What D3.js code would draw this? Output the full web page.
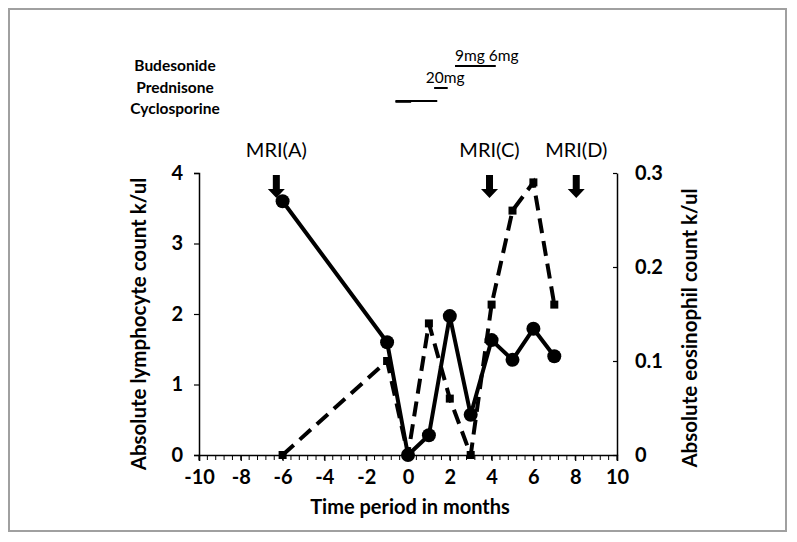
<!DOCTYPE html>
<html>
<head>
<meta charset="utf-8">
<script src="https://cdn.jsdelivr.net/npm/d3@7"></script>
<style>
  html, body { margin: 0; padding: 0; background: #fff; }
  svg { display: block; font-family: Lato, "Open Sans", "Liberation Sans", sans-serif; }
</style>
</head>
<body>
<svg id="chart" width="797" height="542"></svg>
<script>
// ---- data ----
const months = [-6, -1, 0, 1, 2, 3, 4, 5, 6, 7];
const lymphocytes = [3.6, 1.6, 0, 0.28, 1.97, 0.57, 1.63, 1.35, 1.79, 1.40];
const eosinophils = [0, 0.1, 0, 0.14, 0.06, 0, 0.16, 0.26, 0.29, 0.16];
const xTicks = [-10, -8, -6, -4, -2, 0, 2, 4, 6, 8, 10];
const yLeftTicks = [0, 1, 2, 3, 4];
const yRightTicks = [0, 0.1, 0.2, 0.3];
const mriLabels = ["MRI(A)", "MRI(C)", "MRI(D)"];
const mriMonths = [-6.3, 3.9, 8.05];
const drugNames = ["Budesonide", "Prednisone", "Cyclosporine"];
const drugStart = [2.25, 1.25, -0.6];
const drugEnd = [4.2, 1.9, 1.4];
const doseLabels = ["9mg 6mg", "20mg", ""];
const doseMonths = [2.25, 0.85, 0];

(function () {
const svg = d3.select("#chart");
const pLeft = 199, pRight = 617, pTop = 173, pBottom = 455;

// border
svg.append("rect").attr("x", 9).attr("y", 9).attr("width", 777).attr("height", 522)
  .attr("fill", "none").attr("stroke", "#a0a0a0").attr("stroke-width", 2);

const x = d3.scaleLinear().domain([-10, 10]).range([pLeft, pRight]);
const yL = d3.scaleLinear().domain([0, 4]).range([pBottom, pTop]);
const yR = d3.scaleLinear().domain([0, 0.3]).range([pBottom, pTop]);

// left axis
const gL = svg.append("g").attr("transform", `translate(${pLeft},0)`)
  .call(d3.axisLeft(yL).tickValues(yLeftTicks).tickFormat(d => String(d)).tickSize(5).tickPadding(10));
// right axis (ticks inward)
const gR = svg.append("g").attr("transform", `translate(${pRight},0)`)
  .call(d3.axisRight(yR).tickValues(yRightTicks).tickFormat(d => d === 0 ? "0" : d.toFixed(1)).tickSize(0).tickPadding(18));
gR.selectAll(".tick").append("line").attr("x1", -4).attr("x2", 0).attr("stroke", "#000");
// x axis with minor ticks
const minor = d3.range(-10, 10.001, 0.4);
const gX = svg.append("g").attr("transform", `translate(0,${pBottom})`)
  .call(d3.axisBottom(x).tickValues(xTicks).tickFormat(d => String(d)).tickSize(6).tickPadding(9));
gX.selectAll(".minor").data(minor).enter().append("line")
  .attr("class", "minor").attr("x1", d => x(d)).attr("x2", d => x(d))
  .attr("y1", 0).attr("y2", 5).attr("stroke", "#000").attr("stroke-width", 1);

[gL, gR, gX].forEach(g => {
  g.select(".domain").attr("stroke", "#000").attr("stroke-width", 1.5);
  g.selectAll(".tick line").attr("stroke", "#000").attr("stroke-width", 1.2);
  g.selectAll(".tick text").attr("fill", "#000").style("font-size", "20px").style("font-weight", "bold")
    .style("font-family", 'Lato, "Open Sans", sans-serif');
});
gL.selectAll(".tick text").attr("dx", -1);

// axis titles
svg.append("text").attr("x", 410).attr("y", 514).attr("text-anchor", "middle")
  .style("font-size", "20px").style("font-weight", "bold").text("Time period in months");
svg.append("text").attr("transform", `translate(146,${(pTop + pBottom) / 2 + 10}) rotate(-90)`)
  .attr("text-anchor", "middle").style("font-size", "20.5px").style("font-weight", "bold")
  .text("Absolute lymphocyte count k/ul");
svg.append("text").attr("transform", `translate(697,${(pTop + pBottom) / 2 + 14}) rotate(-90)`)
  .attr("text-anchor", "middle").style("font-size", "20.5px").style("font-weight", "bold")
  .text("Absolute eosinophil count k/ul");

// lymphocyte series (solid, circles)
const lymphData = months.map((m, i) => [m, lymphocytes[i]]);
svg.append("path").datum(lymphData)
  .attr("d", d3.line().x(d => x(d[0])).y(d => yL(d[1])))
  .attr("fill", "none").attr("stroke", "#000").attr("stroke-width", 4).attr("stroke-linejoin", "round");
svg.selectAll(".lc").data(lymphData).enter().append("circle")
  .attr("cx", d => x(d[0])).attr("cy", d => yL(d[1])).attr("r", 7).attr("fill", "#000");

// eosinophil series (dashed, squares)
const eosData = months.map((m, i) => [m, eosinophils[i]]);
svg.append("path").datum(eosData)
  .attr("d", d3.line().x(d => x(d[0])).y(d => yR(d[1])))
  .attr("fill", "none").attr("stroke", "#000").attr("stroke-width", 4)
  .attr("stroke-dasharray", "15,8");
svg.selectAll(".es").data(eosData).enter().append("rect")
  .attr("x", d => x(d[0]) - 4).attr("y", d => yR(d[1]) - 4).attr("width", 8).attr("height", 8).attr("fill", "#000");

// MRI arrows and labels
const arrowTop = 175, arrowTip = 198;
mriMonths.forEach((m, i) => {
  const cx = x(m);
  svg.append("path")
    .attr("d", `M${cx - 3.5},${arrowTop} L${cx + 3.5},${arrowTop} L${cx + 3.5},${arrowTip - 9} L${cx + 8.5},${arrowTip - 9} L${cx},${arrowTip} L${cx - 8.5},${arrowTip - 9} L${cx - 3.5},${arrowTip - 9} Z`)
    .attr("fill", "#000");
  svg.append("text").attr("x", cx).attr("y", 157).attr("text-anchor", "middle")
    .style("font-size", "20px").text(mriLabels[i]);
});

// drug labels and lines
const drugY = [66, 88, 101];
const drugTextY = [71, 93, 114];
drugNames.forEach((n, i) => {
  svg.append("text").attr("x", 175).attr("y", drugTextY[i]).attr("text-anchor", "middle")
    .style("font-size", "15.5px").style("font-weight", "bold").text(n);
  svg.append("line").attr("x1", x(drugStart[i])).attr("x2", x(drugEnd[i]))
    .attr("y1", drugY[i]).attr("y2", drugY[i]).attr("stroke", "#000").attr("stroke-width", 2);
  if (doseLabels[i]) {
    svg.append("text").attr("x", x(doseMonths[i])).attr("y", drugY[i] - 5)
      .style("font-size", "15.5px").text(doseLabels[i]);
  }
});
// thicker start of cyclosporine bar
svg.append("line").attr("x1", x(drugStart[2])).attr("x2", x(drugStart[2] + 0.75))
  .attr("y1", drugY[2] + 0.8).attr("y2", drugY[2] + 0.8).attr("stroke", "#000").attr("stroke-width", 2);
})();
</script>
</body>
</html>
